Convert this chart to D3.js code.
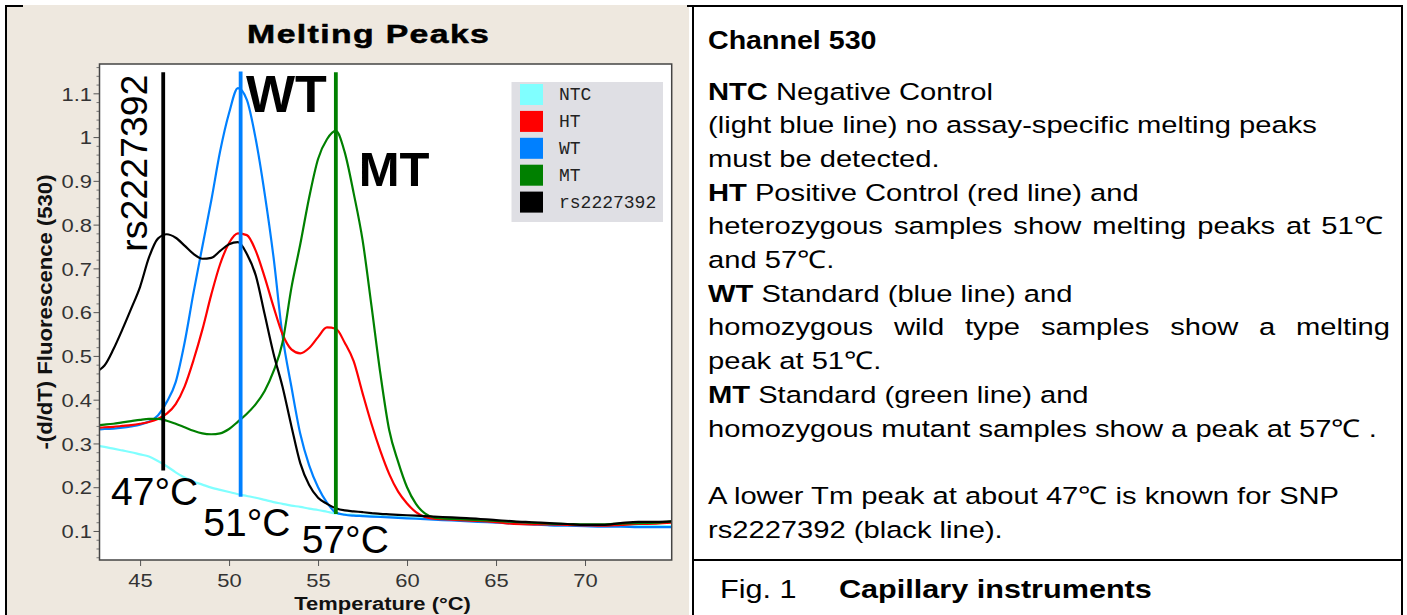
<!DOCTYPE html>
<html><head><meta charset="utf-8">
<script src="https://cdn.jsdelivr.net/npm/d3@7/dist/d3.min.js"></script>
<style>body{margin:0;background:#fff;}svg{display:block;}</style>
</head><body>
<svg id="c" width="1407" height="615"></svg>
<script>
// ---------------- data ----------------
const temps = [42.72,43,43.5,44,44.5,45,45.5,46,46.5,47,47.5,48,48.5,49,49.5,50,50.5,51,51.5,52,52.5,53,53.5,54,54.5,55,55.5,56,56.5,57,57.5,58,58.5,59,59.5,60,60.5,61,61.5,62,63,64,65,66,67,68,69,70,71,72,73,74,74.87];
const ntcValues = [0.294,0.292,0.288,0.284,0.280,0.275,0.270,0.260,0.248,0.234,0.222,0.213,0.206,0.199,0.194,0.189,0.184,0.180,0.176,0.171,0.166,0.162,0.158,0.155,0.151,0.148,0.144,0.140,0.138,0.137,0.136,0.135,0.134,0.133,0.132,0.131,0.130,0.129,0.128,0.127,0.125,0.123,0.121,0.119,0.117,0.115,0.114,0.113,0.112,0.112,0.111,0.111,0.111];
const wtValues = [0.332,0.333,0.334,0.336,0.339,0.343,0.350,0.364,0.395,0.440,0.530,0.644,0.750,0.855,0.968,1.055,1.112,1.085,0.995,0.871,0.725,0.547,0.430,0.322,0.250,0.200,0.165,0.142,0.137,0.135,0.134,0.133,0.132,0.131,0.130,0.129,0.128,0.127,0.126,0.125,0.123,0.121,0.119,0.117,0.115,0.113,0.112,0.111,0.110,0.110,0.109,0.109,0.109];
const htValues = [0.336,0.337,0.338,0.340,0.342,0.345,0.349,0.356,0.368,0.390,0.430,0.490,0.560,0.640,0.710,0.758,0.780,0.776,0.740,0.680,0.612,0.550,0.515,0.506,0.518,0.543,0.565,0.562,0.530,0.488,0.415,0.345,0.283,0.230,0.190,0.163,0.143,0.132,0.128,0.127,0.125,0.123,0.120,0.116,0.115,0.115,0.114,0.113,0.112,0.114,0.116,0.117,0.119];
const mtValues = [0.342,0.343,0.345,0.348,0.351,0.354,0.356,0.356,0.352,0.345,0.337,0.329,0.323,0.321,0.323,0.333,0.350,0.368,0.390,0.420,0.465,0.530,0.655,0.755,0.862,0.950,0.995,1.014,0.965,0.872,0.765,0.615,0.460,0.330,0.258,0.200,0.162,0.140,0.131,0.129,0.127,0.125,0.123,0.121,0.119,0.117,0.116,0.115,0.115,0.117,0.118,0.119,0.122];
const rsValues = [0.468,0.478,0.515,0.560,0.608,0.658,0.725,0.768,0.778,0.770,0.752,0.733,0.722,0.724,0.740,0.755,0.760,0.733,0.684,0.595,0.505,0.430,0.340,0.255,0.205,0.176,0.162,0.152,0.147,0.145,0.143,0.141,0.139,0.138,0.137,0.136,0.135,0.134,0.133,0.132,0.130,0.128,0.125,0.122,0.120,0.118,0.116,0.114,0.114,0.118,0.121,0.121,0.122];

const seriesNames = ["NTC","HT","WT","MT","rs2227392"];
const seriesColors = ["#80FFFF","#FF0000","#0080FF","#008000","#000000"];
const drawOrder = ["NTC","WT","HT","MT","rs2227392"];
const seriesValues = {"NTC":ntcValues,"HT":htValues,"WT":wtValues,"MT":mtValues,"rs2227392":rsValues};

const xTicks = [45,50,55,60,65,70];
const yTicks = [0.1,0.2,0.3,0.4,0.5,0.6,0.7,0.8,0.9,1.0,1.1];
const yMinorTicks = [0.04,0.06,0.08,0.12,0.14,0.16,0.18,0.22,0.24,0.26,0.28,0.32,0.34,0.36,0.38,0.42,0.44,0.46,0.48,0.52,0.54,0.56,0.58,0.62,0.64,0.66,0.68,0.72,0.74,0.76,0.78,0.82,0.84,0.86,0.88,0.92,0.94,0.96,0.98,1.02,1.04,1.06,1.08,1.12,1.14,1.16];

// peak marker lines (temperature, top value, bottom value)
const markerTemps = [46.3, 50.65, 56.0];
const markerTops = [1.148, 1.15, 1.148];
const markerBottoms = [0.238, 0.178, 0.139];
const markerColors = ["#000000","#0080FF","#008000"];

// annotation labels (text, temperature, value)
const annotTexts = ["WT","MT","47°C","51°C","57°C"];
const annotTemps = [50.95, 57.28, 43.37, 48.55, 54.08];
const annotValues = [1.058, 0.888, 0.159, 0.0886, 0.0497];
const annotSizes = [52, 49, 39, 39, 39];
const annotBold = [true, true, false, false, false];
const rotLabel = {text:"rs2227392", t:45.39, v:0.738};

const noteLines = [
  [["NTC",1],[" Negative Control",0]],
  [["(light blue line) no assay-specific melting peaks",0]],
  [["must be detected.",0]],
  [["HT",1],[" Positive Control (red line) and",0]],
  [["heterozygous samples show melting peaks at 51\u2103",0]],
  [["and 57\u2103.",0]],
  [["WT",1],[" Standard (blue line) and",0]],
  [["homozygous wild type samples show a melting",0]],
  [["peak at 51\u2103.",0]],
  [["MT",1],[" Standard (green line) and",0]],
  [["homozygous mutant samples show a peak at 57\u2103 .",0]],
  [],
  [["A lower Tm peak at about 47\u2103 is known for SNP",0]],
  [["rs2227392 (black line).",0]]
];
const justifyTo = {4:1383, 7:1390};

// ---------------- drawing ----------------
const SANS = "'Liberation Sans', Arial, Helvetica, sans-serif";
const svg = d3.select("#c");
const SX = 1.18;

// table frame
svg.append("rect").attr("x",5).attr("y",5).attr("width",1398).attr("height",2).attr("fill","#000");
svg.append("rect").attr("x",5).attr("y",5).attr("width",2).attr("height",610).attr("fill","#000");
svg.append("rect").attr("x",692).attr("y",5).attr("width",2).attr("height",610).attr("fill","#000");
svg.append("rect").attr("x",1401).attr("y",5).attr("width",2).attr("height",610).attr("fill","#000");
svg.append("rect").attr("x",692).attr("y",559).attr("width",711).attr("height",2).attr("fill","#000");

// beige chart panel
svg.append("rect").attr("x",7).attr("y",7).attr("width",682).attr("height",608).attr("fill","#EEE8DF");
svg.append("rect").attr("x",23).attr("y",5).attr("width",664).attr("height",2).attr("fill","#EEE8DF");

// title
svg.append("text").attr("transform",`translate(368,43) scale(1.3,1)`)
  .attr("text-anchor","middle").attr("font-family",SANS).attr("font-weight","bold")
  .attr("font-size",26).attr("textLength",186).attr("lengthAdjust","spacing")
  .attr("stroke","#000").attr("stroke-width",0.5)
  .attr("fill","#000").text("Melting Peaks");

const x = d3.scaleLinear().domain([42.72, 74.87]).range([99.5, 671.7]);
const y = d3.scaleLinear().domain([0.0337, 1.167]).range([560, 64]);

// plot area
svg.append("rect").attr("x",x.range()[0]).attr("y",y.range()[1])
  .attr("width",x.range()[1]-x.range()[0]).attr("height",y.range()[0]-y.range()[1])
  .attr("fill","#fff");

const clip = svg.append("defs").append("clipPath").attr("id","pc");
clip.append("rect").attr("x",x.range()[0]).attr("y",y.range()[1])
  .attr("width",x.range()[1]-x.range()[0]).attr("height",y.range()[0]-y.range()[1]);

// axes
const gx = svg.append("g").attr("transform",`translate(0,${y.range()[0]})`)
  .call(d3.axisBottom(x).tickValues(xTicks).tickSize(6).tickFormat(d3.format("d")));
gx.select(".domain").remove();
gx.selectAll("line").attr("stroke","#555");
gx.selectAll("text").attr("font-family",SANS).attr("font-size",18.6).attr("fill","#333")
  .attr("dy",null).attr("y",27).attr("transform",`scale(${SX},1)`);

const gyMinor = svg.append("g").attr("transform",`translate(${x.range()[0]},0)`)
  .call(d3.axisLeft(y).tickValues(yMinorTicks).tickSize(3).tickFormat(""));
gyMinor.select(".domain").remove();
gyMinor.selectAll("line").attr("stroke","#777");

const gy = svg.append("g").attr("transform",`translate(${x.range()[0]},0)`)
  .call(d3.axisLeft(y).tickValues(yTicks).tickSize(6).tickFormat(d3.format("~g")));
gy.select(".domain").remove();
gy.selectAll("line").attr("stroke","#555");
gy.selectAll("text").attr("font-family",SANS).attr("font-size",18.6).attr("fill","#333")
  .attr("x",-7.5/SX).attr("dy","0.36em").attr("transform",`scale(${SX},1)`);

// axis titles
svg.append("text").attr("transform",`translate(${(x.range()[0]+x.range()[1])/2 - 3},610) scale(${SX},1)`)
  .attr("text-anchor","middle").attr("font-family",SANS).attr("font-weight","bold")
  .attr("font-size",18.6).attr("fill","#111").text("Temperature (°C)");
svg.append("text").attr("transform",`translate(52,${(y.range()[0]+y.range()[1])/2}) rotate(-90)`)
  .attr("text-anchor","middle").attr("font-family",SANS).attr("font-weight","bold")
  .attr("font-size",20).attr("textLength",275).attr("lengthAdjust","spacingAndGlyphs")
  .attr("fill","#111").text("-(d/dT) Fluorescence (530)");

// curves
const line = d3.line().x((d,i)=>x(temps[i])).y(d=>y(d)).curve(d3.curveMonotoneX);
const curves = svg.append("g").attr("clip-path","url(#pc)");
drawOrder.forEach(name=>{
  const c = seriesColors[seriesNames.indexOf(name)];
  curves.append("path").datum(seriesValues[name]).attr("d",line)
    .attr("fill","none").attr("stroke",c).attr("stroke-width",2.2).attr("stroke-linejoin","round");
});

// plot border
svg.append("rect").attr("x",x.range()[0]).attr("y",y.range()[1])
  .attr("width",x.range()[1]-x.range()[0]).attr("height",y.range()[0]-y.range()[1])
  .attr("fill","none").attr("stroke","#444").attr("stroke-width",1.5);

// legend
const lg = svg.append("g");
lg.append("rect").attr("x",511.5).attr("y",82).attr("width",151.5).attr("height",140).attr("fill","#DFDFE4");
seriesNames.forEach((n,i)=>{
  const cy = 94.5 + i*26.9;
  lg.append("rect").attr("x",520).attr("y",cy-10.5).attr("width",23).attr("height",21).attr("fill",seriesColors[i]);
  lg.append("text").attr("x",559).attr("y",cy+5.5).attr("font-family","'Liberation Mono','Courier New',monospace")
    .attr("font-size",18).attr("fill","#222").text(n);
});

// marker lines
markerTemps.forEach((t,i)=>{
  svg.append("line").attr("x1",x(t)).attr("x2",x(t)).attr("y1",y(markerTops[i])).attr("y2",y(markerBottoms[i]))
    .attr("stroke",markerColors[i]).attr("stroke-width",3.8);
});

// annotations
annotTexts.forEach((s,i)=>{
  svg.append("text").attr("x",x(annotTemps[i])).attr("y",y(annotValues[i]))
    .attr("font-family",SANS).attr("font-size",annotSizes[i])
    .attr("font-weight",annotBold[i]?"bold":"normal").attr("fill","#000").text(s);
});
svg.append("text").attr("transform",`translate(${x(rotLabel.t)},${y(rotLabel.v)}) rotate(-90)`)
  .attr("font-family",SANS).attr("font-size",37.5).attr("fill","#000").text(rotLabel.text);

// right notes panel
const BX = 708, BSX = 1.19, BFS = 24.5;
function stretchedText(xp, yp, sx, fs){
  return svg.append("text").attr("transform",`translate(${xp},${yp}) scale(${sx},1)`)
    .attr("font-family",SANS).attr("font-size",fs).attr("fill","#000");
}
stretchedText(BX, 48.5, 1.1, 26).attr("font-weight","bold").text("Channel 530");
noteLines.forEach((segs,i)=>{
  if(!segs.length) return;
  const yb = 99.5 + i*33.7;
  const t = stretchedText(BX, yb, BSX, BFS);
  if(justifyTo[i]){
    const words = segs.map(s=>s[0]).join("").split(" ");
    const spans = words.map(w=>t.append("tspan").text(w));
    const widths = spans.map(s=>s.node().getComputedTextLength());
    const total = (justifyTo[i]-BX)/BSX;
    const gap = (total - d3.sum(widths))/(words.length-1);
    let cx = 0;
    spans.forEach((s,k)=>{ s.attr("x",cx); cx += widths[k]+gap; });
  } else {
    segs.forEach(s=>{ t.append("tspan").attr("font-weight",s[1]?"bold":"normal").text(s[0]); });
  }
});
const fig = stretchedText(720, 598, 1.2, 25.5);
fig.append("tspan").text("Fig. 1");
fig.append("tspan").attr("font-weight","bold").attr("x",(839-720)/1.2).text("Capillary instruments");
</script>
</body></html>
